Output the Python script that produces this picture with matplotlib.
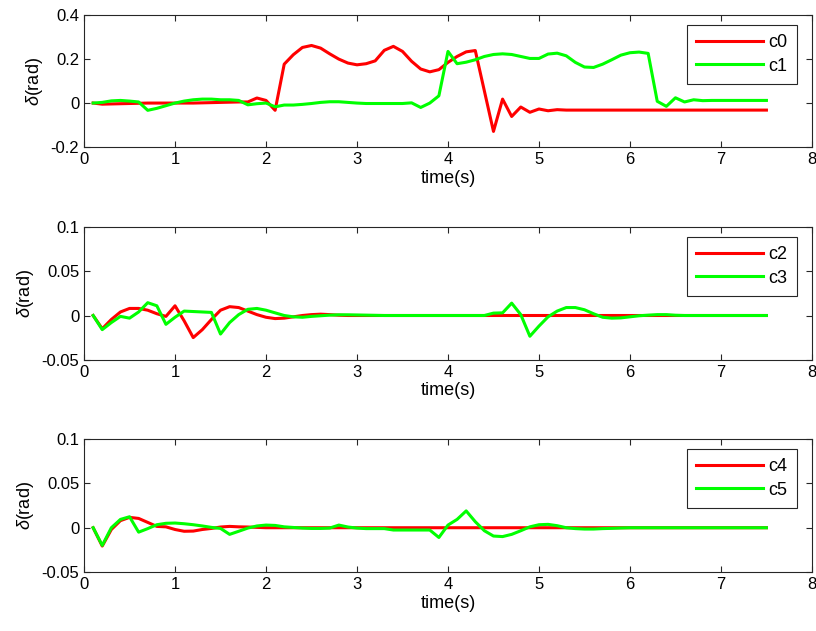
import numpy as np
import matplotlib.pyplot as plt

# time axis, one sample every 0.1 s
t = np.round(np.arange(0.1, 7.51, 0.1), 2)

c0 = [0, -0.005, -0.004, -0.003, -0.002, -0.001, 0, 0, 0, 0,
      0, 0, 0.001, 0.002, 0.003, 0.004, 0.005, 0.005, 0.023, 0.012,
      -0.033, 0.177, 0.22, 0.253, 0.262, 0.25, 0.224, 0.2, 0.182, 0.174,
      0.179, 0.192, 0.24, 0.258, 0.235, 0.19, 0.155, 0.142, 0.152, 0.185,
      0.212, 0.233, 0.239, 0.055, -0.129, 0.018, -0.061, -0.018, -0.042, -0.027,
      -0.035, -0.03, -0.032, -0.032, -0.032, -0.032, -0.032, -0.032, -0.032, -0.032,
      -0.032, -0.032, -0.032, -0.032, -0.032, -0.032, -0.032, -0.032, -0.032, -0.032,
      -0.032, -0.032, -0.032, -0.032, -0.032]
c1 = [0, 0.003, 0.01, 0.012, 0.009, 0.005, -0.033, -0.024, -0.012, 0,
      0.009, 0.015, 0.018, 0.018, 0.015, 0.015, 0.012, -0.008, -0.003, 0,
      -0.017, -0.009, -0.009, -0.006, -0.002, 0.003, 0.006, 0.006, 0.003, 0,
      -0.002, -0.002, -0.002, -0.002, -0.002, 0.001, -0.02, 0.0, 0.033, 0.235,
      0.179, 0.186, 0.197, 0.212, 0.221, 0.224, 0.221, 0.212, 0.203, 0.203,
      0.223, 0.227, 0.215, 0.185, 0.164, 0.162, 0.177, 0.197, 0.218, 0.229,
      0.232, 0.226, 0.008, -0.015, 0.024, 0.005, 0.015, 0.011, 0.012, 0.012,
      0.012, 0.012, 0.012, 0.012, 0.012]

c2 = [0, -0.015, -0.0045, 0.004, 0.008, 0.008, 0.006, 0.002, -0.001, 0.011,
      -0.006, -0.025, -0.016, -0.0045, 0.006, 0.01, 0.009, 0.005, 0.001, -0.002,
      -0.0035, -0.003, -0.0015, 0, 0.001, 0.0015, 0.001, 0.0003, 0, 0] + [0] * 45
c3 = [0, -0.016, -0.008, -0.001, -0.003, 0.004, 0.0145, 0.011, -0.01, -0.002,
      0.005, 0.0045, 0.004, 0.0035, -0.021, -0.008, 0.001, 0.007, 0.008, 0.006,
      0.003, 0, -0.0015, -0.002, -0.001, -0.0003, 0.0004, 0.0008, 0.0008, 0.0006,
      0.0004, 0.0002, 0, 0, 0, 0, 0, 0, 0, 0,
      0, 0, 0, 0, 0.0027, 0.003, 0.014, 0.001, -0.0235, -0.012,
      -0.0015, 0.005, 0.009, 0.009, 0.0065, 0.002, -0.002, -0.003, -0.0027, -0.0015,
      -0.0003, 0.0004, 0.001, 0.001, 0.0003, 0, 0, 0, 0, 0,
      0, 0, 0, 0, 0]

c4 = [0, -0.0207, -0.002, 0.008, 0.0117, 0.0105, 0.006, 0.0015, 0.001, -0.002,
      -0.004, -0.0038, -0.002, -0.0008, 0.0008, 0.0015, 0.001, 0.0008, 0.0004, 0] + [0] * 55
c5 = [0, -0.02, 0, 0.0094, 0.0124, -0.005, -0.001, 0.0034, 0.005, 0.0053,
      0.0045, 0.0034, 0.002, 0.0004, -0.0008, -0.0075, -0.004, -0.0004, 0.002, 0.003,
      0.0026, 0.001, 0.0003, -0.0004, -0.0008, -0.0008, -0.0004, 0.003, 0.0008, -0.0004,
      -0.001, -0.001, -0.001, -0.0026, -0.0026, -0.0026, -0.0026, -0.0026, -0.011, 0.003,
      0.0094, 0.019, 0.0068, -0.0034, -0.0094, -0.01, -0.0075, -0.0034, 0.001, 0.0034,
      0.0038, 0.0023, 0, -0.001, -0.0015, -0.0015, -0.001, -0.0007, -0.0003, 0,
      0, 0, 0, 0, 0, 0, 0, 0, 0, 0,
      0, 0, 0, 0, 0]

panels = [(c0, c1, 'c0', 'c1', (-0.2, 0.4), [-0.2, 0, 0.2, 0.4], ['-0.2', '0', '0.2', '0.4']),
          (c2, c3, 'c2', 'c3', (-0.05, 0.1), [-0.05, 0, 0.05, 0.1], ['-0.05', '0', '0.05', '0.1']),
          (c4, c5, 'c4', 'c5', (-0.05, 0.1), [-0.05, 0, 0.05, 0.1], ['-0.05', '0', '0.05', '0.1'])]

plt.rcParams['font.family'] = ['Liberation Sans', 'DejaVu Sans']
plt.rcParams['font.size'] = 10
plt.rcParams['mathtext.fontset'] = 'custom'
plt.rcParams['mathtext.it'] = 'Liberation Sans:italic'
plt.rcParams['mathtext.rm'] = 'Liberation Sans'

fig = plt.figure(figsize=(8.16, 6.31), dpi=100)
boxes = [(0.103, 0.767, 0.892, 0.209),
         (0.103, 0.430, 0.892, 0.210),
         (0.103, 0.0935, 0.892, 0.2105)]

edge = '#262626'
for box, (a, b, la, lb, ylim, yt, ytl) in zip(boxes, panels):
    ax = fig.add_axes(box)
    ax.plot(t, a, color=(1, 0, 0), lw=2.2, label=la)
    ax.plot(t, b, color=(0, 1, 0), lw=2.2, label=lb)
    ax.set_xlim(0, 8)
    ax.set_ylim(*ylim)
    ax.set_xticks(range(9))
    ax.set_yticks(yt)
    ax.set_yticklabels(ytl)
    ax.tick_params(direction='in', top=True, right=True, length=4, width=0.8,
                   colors=edge, labelcolor='black', labelsize=12)
    for s in ax.spines.values():
        s.set_color(edge)
        s.set_linewidth(0.8)
    ax.set_xlabel('time(s)', fontsize=13, labelpad=2)
    ax.set_ylabel(r'$\delta$(rad)', fontsize=13, labelpad=4)
    leg = ax.legend(loc='upper right', fontsize=13, handlelength=3.7,
                    fancybox=False, framealpha=1, edgecolor=edge,
                    borderaxespad=0, borderpad=0.5, labelspacing=0.35,
                    handletextpad=0.3, bbox_to_anchor=(0.979, 0.924))
    leg.get_frame().set_linewidth(0.8)

plt.savefig('out.png', dpi=100)
